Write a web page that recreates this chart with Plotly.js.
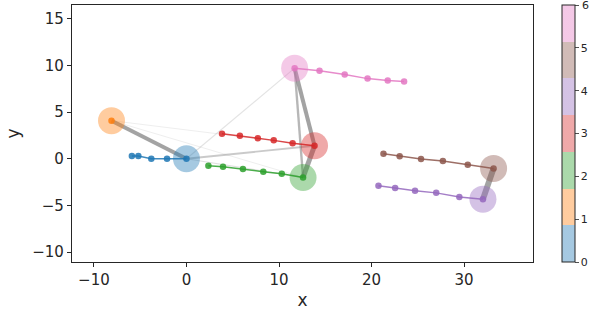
<!DOCTYPE html>
<html>
<head>
<meta charset="utf-8">
<script src="https://cdn.plot.ly/plotly-3.0.1.min.js"></script>
<style>html,body{margin:0;padding:0;background:#fff;}#chart{width:594px;height:310px;}</style>
</head>
<body>
<div id="chart"></div>
<script>
// cluster colours (tab10)
const clusterColors = ["31,119,180","255,127,14","44,160,44","214,39,40","148,103,189","140,86,75","227,119,194"];
const clusterIds = [0,1,2,3,4,5,6];

// chain points for each cluster (first point = cluster centre)
const chainX = [
  [0.0, -2.1, -3.8, -5.2, -5.9],
  [-8.1],
  [12.6, 10.3, 8.3, 6.1, 3.95, 2.37],
  [13.84, 11.47, 9.43, 7.71, 5.77, 3.84],
  [32.04, 29.49, 26.99, 24.7, 22.55, 20.75],
  [33.19, 30.4, 27.71, 25.35, 23.04, 21.29],
  [11.69, 14.38, 17.1, 19.57, 21.75, 23.52]
];
const chainY = [
  [0.0, 0.0, 0.0, 0.29, 0.29],
  [4.08],
  [-2.0, -1.61, -1.39, -1.1, -0.86, -0.75],
  [1.39, 1.65, 1.97, 2.19, 2.47, 2.68],
  [-4.32, -4.08, -3.65, -3.43, -3.14, -2.9],
  [-1.03, -0.64, -0.25, -0.03, 0.26, 0.54],
  [9.7, 9.41, 9.01, 8.58, 8.37, 8.26]
];

// connections between cluster centres
const edgeFrom   = [0, 3, 2, 2, 4, 0, 0, 0, 1, 1];
const edgeTo     = [1, 6, 6, 3, 5, 6, 3, 2, 3, 2];
const edgeWeight = [0.6, 0.62, 0.3, 0.8, 1.0, 0.07, 0.2, 0.08, 0.02, 0.02];

// tick labels
const xTicks = [-10, 0, 10, 20, 30];
const yTicks = [-10, -5, 0, 5, 10, 15];
const cbTicks = [0, 1, 2, 3, 4, 5, 6];

const traces = [];

// edges
edgeFrom.forEach((a, i) => {
  const b = edgeTo[i], w = edgeWeight[i];
  traces.push({
    type: 'scatter', mode: 'lines',
    x: [chainX[a][0], chainX[b][0]],
    y: [chainY[a][0], chainY[b][0]],
    line: {color: 'rgb(128,128,128)', width: 0.8 + 5.2 * w},
    opacity: Math.min(0.72, 0.12 + 1.5 * w),
    hoverinfo: 'skip', showlegend: false
  });
});

// discrete colour scale
const n = clusterColors.length;
const cscale = [];
clusterColors.forEach((c, k) => {
  cscale.push([k / n, 'rgba(' + c + ',0.4)']);
  cscale.push([(k + 1) / n, 'rgba(' + c + ',0.4)']);
});

const cbMax = cbTicks[cbTicks.length - 1];

// big centre circles (with colour bar)
traces.push({
  type: 'scatter', mode: 'markers',
  x: clusterIds.map(k => chainX[k][0]),
  y: clusterIds.map(k => chainY[k][0]),
  marker: {
    size: 27, color: clusterIds, colorscale: cscale, cmin: 0, cmax: cbMax,
    line: {width: 0},
    showscale: true,
    colorbar: {
      x: 1.0626, xanchor: 'left', xpad: 0, ypad: 0,
      y: 0.5, yanchor: 'middle', len: 1, lenmode: 'fraction',
      thickness: 13, thicknessmode: 'pixels',
      outlinewidth: 1, outlinecolor: '#262626',
      tickvals: cbTicks.map(v => v === cbMax ? v - 0.0001 : v),
      ticktext: cbTicks.map(v => v === cbMax ? '' : String(v)),
      ticks: 'outside', ticklen: 3.5, tickwidth: 0.8, tickcolor: '#262626',
      tickfont: {family: 'DejaVu Sans', size: 11, color: '#262626'}
    }
  },
  hoverinfo: 'skip', showlegend: false
});

// chains
clusterIds.forEach(k => {
  traces.push({
    type: 'scatter', mode: 'lines+markers',
    x: chainX[k], y: chainY[k],
    line: {color: 'rgba(' + clusterColors[k] + ',0.85)', width: 1.5},
    marker: {size: 6.5, color: 'rgba(' + clusterColors[k] + ',0.85)'},
    hoverinfo: 'skip', showlegend: false
  });
});

const axisCommon = {
  showgrid: false, zeroline: false,
  showline: true, mirror: true, linecolor: '#262626', linewidth: 1.2,
  ticks: 'outside', ticklen: 4, tickwidth: 1, tickcolor: '#262626',
  tickfont: {family: 'DejaVu Sans', size: 15, color: '#262626'}
};

const layout = {
  width: 594, height: 310,
  margin: {l: 72, r: 59, t: 5, b: 48},
  paper_bgcolor: '#fff', plot_bgcolor: '#fff',
  showlegend: false,
  xaxis: Object.assign({}, axisCommon, {
    range: [-12.37, 37.45], tickvals: xTicks, ticktext: xTicks.map(v => v < 0 ? '\u2212' + Math.abs(v) : String(v)),
    title: {text: 'x', font: {family: 'DejaVu Sans', size: 17, color: '#262626'}, standoff: 6}
  }),
  yaxis: Object.assign({}, axisCommon, {
    range: [-11.05, 16.46], tickvals: yTicks, ticktext: yTicks.map(v => v < 0 ? '\u2212' + Math.abs(v) : String(v)),
    title: {text: 'y', font: {family: 'DejaVu Sans', size: 17, color: '#262626'}, standoff: 8}
  }),
  annotations: [{
    text: String(cbMax), xref: 'paper', yref: 'paper', x: 1.1015, y: 1,
    xanchor: 'left', yanchor: 'middle', showarrow: false,
    font: {family: 'DejaVu Sans', size: 11, color: '#262626'}
  }]
};

Plotly.newPlot('chart', traces, layout, {staticPlot: true, displayModeBar: false});
</script>
</body>
</html>
